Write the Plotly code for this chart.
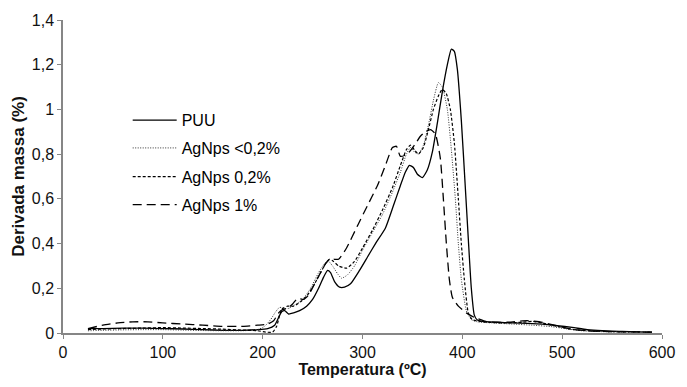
import plotly.graph_objects as go

# ---- data ----
puu_t = [25, 40, 60, 80, 100, 120, 140, 160, 180, 195, 205, 212, 216, 219, 222, 226, 231, 237, 244, 250,
         256, 261, 265, 268, 272, 277, 282, 288, 297, 305, 313, 323, 331, 338, 343, 347, 351, 355, 360,
         365, 370, 375, 380, 385, 389, 392, 395, 399, 403, 406, 409, 412, 415, 420, 435, 450, 465, 480,
         495, 510, 525, 540, 560, 575, 590]
puu_v = [0.02, 0.02, 0.022, 0.022, 0.02, 0.018, 0.015, 0.012, 0.012, 0.015, 0.02, 0.035, 0.07, 0.095, 0.1,
         0.085, 0.09, 0.1, 0.12, 0.15, 0.2, 0.25, 0.28, 0.27, 0.23, 0.205, 0.205, 0.22, 0.28, 0.34, 0.4,
         0.47, 0.57, 0.66, 0.72, 0.75, 0.74, 0.71, 0.695, 0.73, 0.81, 0.94, 1.08, 1.2, 1.27, 1.26, 1.18,
         0.95, 0.65, 0.42, 0.2, 0.08, 0.058, 0.052, 0.048, 0.045, 0.043, 0.04, 0.033, 0.025, 0.015, 0.01,
         0.007, 0.005, 0.004]

ag02lt_t = [25, 40, 60, 80, 100, 120, 140, 160, 180, 195, 202, 208, 213, 217, 221, 226, 232, 240, 248,
            256, 262, 266, 270, 275, 279, 285, 292, 300, 310, 320, 330, 338, 344, 348, 352, 356, 361,
            366, 371, 376, 380, 385, 389, 393, 396, 399, 404, 409, 415, 430, 450, 470, 490, 505, 520,
            540, 560, 590]
ag02lt_v = [0.01, 0.012, 0.014, 0.015, 0.015, 0.013, 0.011, 0.01, 0.01, 0.015, 0.03, 0.06, 0.095, 0.115,
            0.11, 0.11, 0.125, 0.15, 0.2, 0.27, 0.31, 0.32, 0.3, 0.265, 0.245, 0.26, 0.3, 0.37, 0.45, 0.53,
            0.63, 0.72, 0.8, 0.83, 0.81, 0.8, 0.84, 0.93, 1.04, 1.12, 1.1, 1.0, 0.82, 0.6, 0.4, 0.24, 0.1,
            0.06, 0.05, 0.045, 0.04, 0.035, 0.028, 0.018, 0.01, 0.006, 0.004, 0.003]

ag02_t = [25, 40, 60, 80, 100, 120, 140, 160, 180, 195, 203, 210, 214, 217, 220, 225, 231, 238, 245,
          252, 258, 263, 267, 271, 276, 284, 292, 300, 310, 320, 330, 338, 344, 348, 352, 356, 361, 366,
          371, 376, 380, 384, 388, 392, 396, 399, 402, 406, 410, 420, 440, 460, 470, 480, 495, 510, 530,
          550, 570, 590]
ag02_v = [0.015, 0.018, 0.02, 0.022, 0.024, 0.022, 0.02, 0.017, 0.013, 0.01, 0.004, 0.004, 0.03, 0.08,
          0.11, 0.12, 0.12, 0.14, 0.17, 0.22, 0.27, 0.31, 0.33, 0.32, 0.3, 0.29, 0.32, 0.38, 0.46, 0.55,
          0.65, 0.75, 0.82, 0.84, 0.82, 0.8, 0.83, 0.91, 1.0, 1.06, 1.09, 1.07, 1.0, 0.85, 0.6, 0.4, 0.24,
          0.09, 0.06, 0.05, 0.045, 0.048, 0.052, 0.045, 0.03, 0.016, 0.009, 0.006, 0.005, 0.004]

ag1_t = [25, 40, 55, 70, 85, 100, 120, 140, 160, 180, 195, 205, 211, 216, 220, 225, 230, 235, 241, 246,
         252, 258, 263, 267, 271, 276, 284, 295, 305, 315, 323, 330, 334, 338, 345, 352, 358, 363, 368,
         373, 378, 381, 384, 387, 390, 396, 404, 412, 425, 445, 465, 480, 495, 510, 530, 550, 570, 590]
ag1_v = [0.02, 0.035, 0.045, 0.05, 0.05, 0.045, 0.04, 0.035, 0.03, 0.03, 0.035, 0.04, 0.055, 0.09, 0.105,
         0.11, 0.13, 0.155, 0.15, 0.17, 0.22, 0.27, 0.31, 0.33, 0.33, 0.33, 0.38, 0.48, 0.57, 0.66, 0.75,
         0.83, 0.835, 0.79, 0.8, 0.84, 0.88, 0.9, 0.91, 0.89, 0.78, 0.6, 0.4, 0.24, 0.16, 0.12, 0.09, 0.07,
         0.05, 0.048, 0.055, 0.048, 0.032, 0.017, 0.009, 0.006, 0.005, 0.004]

names = ["PUU", "AgNps <0,2%", "AgNps 0,2%", "AgNps 1%"]
x_ticks = [0, 100, 200, 300, 400, 500, 600]
y_ticks = [0, 0.2, 0.4, 0.6, 0.8, 1.0, 1.2, 1.4]

series = [
    (puu_t, puu_v, dict(color="#000000", width=1.3, dash="solid")),
    (ag02lt_t, ag02lt_v, dict(color="#333333", width=1.0, dash="1px,1.5px")),
    (ag02_t, ag02_v, dict(color="#000000", width=1.2, dash="3px,2px")),
    (ag1_t, ag1_v, dict(color="#000000", width=1.3, dash="9px,5px")),
]

legend_ids = ["legend", "legend2", "legend3", "legend4"]
legend_y = [0.680, 0.591, 0.499, 0.410]

fig = go.Figure()
for (t, v, ln), nm, lid in zip(series, names, legend_ids):
    fig.add_trace(go.Scatter(x=t, y=v, mode="lines", name=nm, line=dict(shape="spline", smoothing=0.5, **ln),
                             legend=lid))

grey = "#868686"
font_family = "Liberation Sans, Arial, sans-serif"
layout_legends = {}
for lid, ly in zip(legend_ids, legend_y):
    layout_legends[lid] = dict(x=0.108, y=ly, xanchor="left", yanchor="middle", bgcolor="rgba(0,0,0,0)",
                               font=dict(family=font_family, size=16, color="#000"), itemwidth=44)

fig.update_layout(
    width=687, height=387,
    margin=dict(l=63, r=14, t=18, b=54),
    paper_bgcolor="white", plot_bgcolor="white",
    separators=",.",
    showlegend=True,
    **layout_legends,
    xaxis=dict(range=[0, 600], tickvals=x_ticks, showgrid=False, zeroline=False,
               showline=True, linecolor=grey, linewidth=1.5, ticks="outside", ticklen=4, tickcolor=grey,
               tickfont=dict(family=font_family, size=16, color="#111"),
               title=dict(text="<b>Temperatura (ºC)</b>", standoff=2,
                          font=dict(family="Liberation Sans Narrow, Liberation Sans, Arial", size=16, color="#111"))),
    yaxis=dict(range=[0, 1.4], tickvals=y_ticks, showgrid=False, zeroline=False,
               showline=True, linecolor=grey, linewidth=1.5, ticks="outside", ticklen=4, tickcolor=grey,
               tickfont=dict(family=font_family, size=16, color="#111"),
               title=dict(text="<b>Derivada massa (%)</b>", standoff=3,
                          font=dict(family=font_family, size=17, color="#111"))),
)

fig.write_html("out.html")
